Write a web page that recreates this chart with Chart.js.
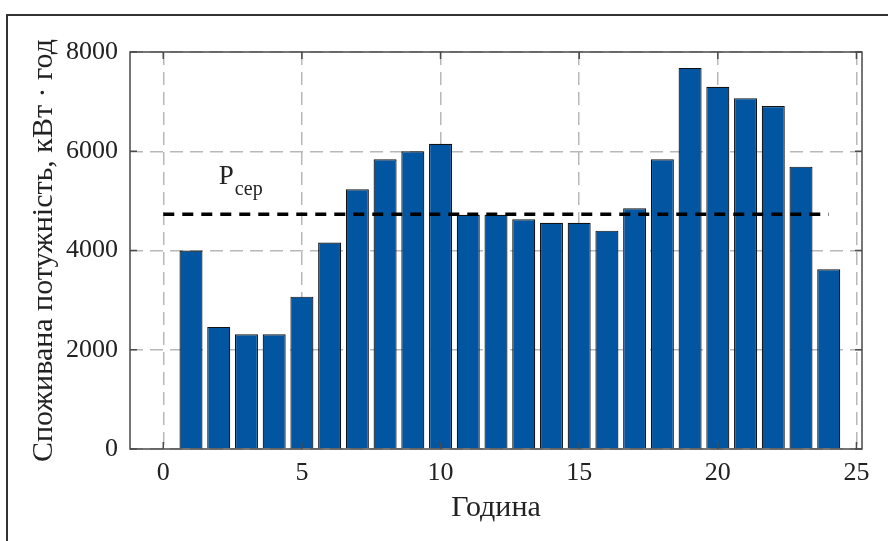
<!DOCTYPE html>
<html>
<head>
<meta charset="utf-8">
<script src="https://cdn.jsdelivr.net/npm/chart.js@4.4.1/dist/chart.umd.min.js"></script>
<style>
    html, body { margin: 0; padding: 0; background: #fff; }
    #wrap { position: relative; width: 888px; height: 541px; }
</style>
</head>
<body>
<div id="wrap"><canvas id="powerChart" width="888" height="541"></canvas></div>
<script>
// Години доби та споживана потужність
const hours = [1, 2, 3, 4, 5, 6, 7, 8, 9, 10, 11, 12, 13, 14, 15, 16, 17, 18, 19, 20, 21, 22, 23, 24];
const consumption = [4000, 2460, 2310, 2310, 3070, 4160, 5235, 5840, 6000, 6150, 4720, 4720, 4630, 4560, 4560, 4400, 4850, 5840, 7680, 7300, 7070, 6910, 5690, 3620];

// Середня потужність (пунктирна лінія)
const meanLevel = 4730;
const meanSpan = [0, 24];

const xTicks = [0, 5, 10, 15, 20, 25];
const yTicks = [0, 2000, 4000, 6000, 8000];

const FONT = "'Liberation Serif', 'DejaVu Serif', serif";

// Box around the plot + small inward ticks (matlab style)
const frameAndLabels = {
    id: 'frameAndLabels',
    afterDatasetsDraw(chart) {
        const { ctx, chartArea: a, scales } = chart;
        const x = scales.x, y = scales.y;
        ctx.save();
        ctx.strokeStyle = '#4a4a4a';
        ctx.lineWidth = 1.5;
        ctx.strokeRect(a.left, a.top, a.right - a.left, a.bottom - a.top);

        const len = 7;
        ctx.beginPath();
        xTicks.forEach(v => {
            const px = x.getPixelForValue(v);
            ctx.moveTo(px, a.bottom); ctx.lineTo(px, a.bottom - len);
            ctx.moveTo(px, a.top); ctx.lineTo(px, a.top + len);
        });
        yTicks.forEach(v => {
            const py = y.getPixelForValue(v);
            ctx.moveTo(a.left, py); ctx.lineTo(a.left + len, py);
            ctx.moveTo(a.right, py); ctx.lineTo(a.right - len, py);
        });
        ctx.stroke();

        // label P_сер above the mean line
        const lx = x.getPixelForValue(2.0);
        const ly = y.getPixelForValue(meanLevel) - 30;
        ctx.fillStyle = '#222';
        ctx.textBaseline = 'alphabetic';
        ctx.font = '27px ' + FONT;
        ctx.fillText('P', lx, ly);
        const pw = ctx.measureText('P').width;
        ctx.font = '20px ' + FONT;
        ctx.fillText('сер', lx + pw + 1, ly + 11);
        ctx.restore();
    },
    afterDraw(chart) {
        // outer frame of the figure (only top and left are visible)
        const { ctx } = chart;
        ctx.save();
        ctx.strokeStyle = '#333';
        ctx.lineWidth = 2;
        ctx.beginPath();
        ctx.moveTo(7, 541);
        ctx.lineTo(7, 15);
        ctx.lineTo(888, 15);
        ctx.stroke();
        ctx.restore();
    }
};

new Chart(document.getElementById('powerChart'), {
    type: 'bar',
    data: {
        datasets: [
            {
                type: 'line',
                data: meanSpan.map(h => ({ x: h, y: meanLevel })),
                borderColor: '#000',
                borderWidth: 3.5,
                borderDash: [11, 8],
                pointRadius: 0,
                fill: false,
                order: 0
            },
            {
                data: hours.map((h, i) => ({ x: h, y: consumption[i] })),
                backgroundColor: '#0255a1',
                borderColor: '#111',
                borderWidth: 1.2,
                barPercentage: 0.83,
                categoryPercentage: 1,
                order: 1
            }
        ]
    },
    options: {
        responsive: false,
        animation: false,
        layout: { padding: { top: 52, right: 26, left: 0, bottom: 0 } },
        plugins: {
            legend: { display: false },
            tooltip: { enabled: false }
        },
        scales: {
            x: {
                type: 'linear',
                min: -1.2,
                max: 25.2,
                offset: false,
                afterFit(scale) { scale.height = 92; },
                afterBuildTicks(scale) { scale.ticks = xTicks.map(v => ({ value: v })); },
                ticks: {
                    includeBounds: false,
                    padding: 9,
                    color: '#222',
                    font: { family: FONT, size: 26 },
                    callback: v => String(v)
                },
                grid: { color: '#b8b8b8', lineWidth: 1.5, drawTicks: false, offset: false },
                border: { display: false, dash: [13, 7] },
                title: {
                    display: true,
                    text: 'Година',
                    color: '#222',
                    font: { family: FONT, size: 30 },
                    padding: { top: 0, bottom: 15 }
                }
            },
            y: {
                min: 0,
                max: 8000,
                afterFit(scale) { scale.width = 130; },
                afterBuildTicks(scale) { scale.ticks = yTicks.map(v => ({ value: v })); },
                ticks: {
                    padding: 12,
                    color: '#222',
                    font: { family: FONT, size: 26 },
                    callback: v => String(v)
                },
                grid: { color: '#b8b8b8', lineWidth: 1.5, drawTicks: false },
                border: { display: false, dash: [13, 7] },
                title: {
                    display: true,
                    text: 'Споживана потужність, кВт · год',
                    color: '#222',
                    font: { family: FONT, size: 30 },
                    padding: { top: 26, bottom: 0 }
                }
            }
        }
    },
    plugins: [frameAndLabels]
});
</script>
</body>
</html>
